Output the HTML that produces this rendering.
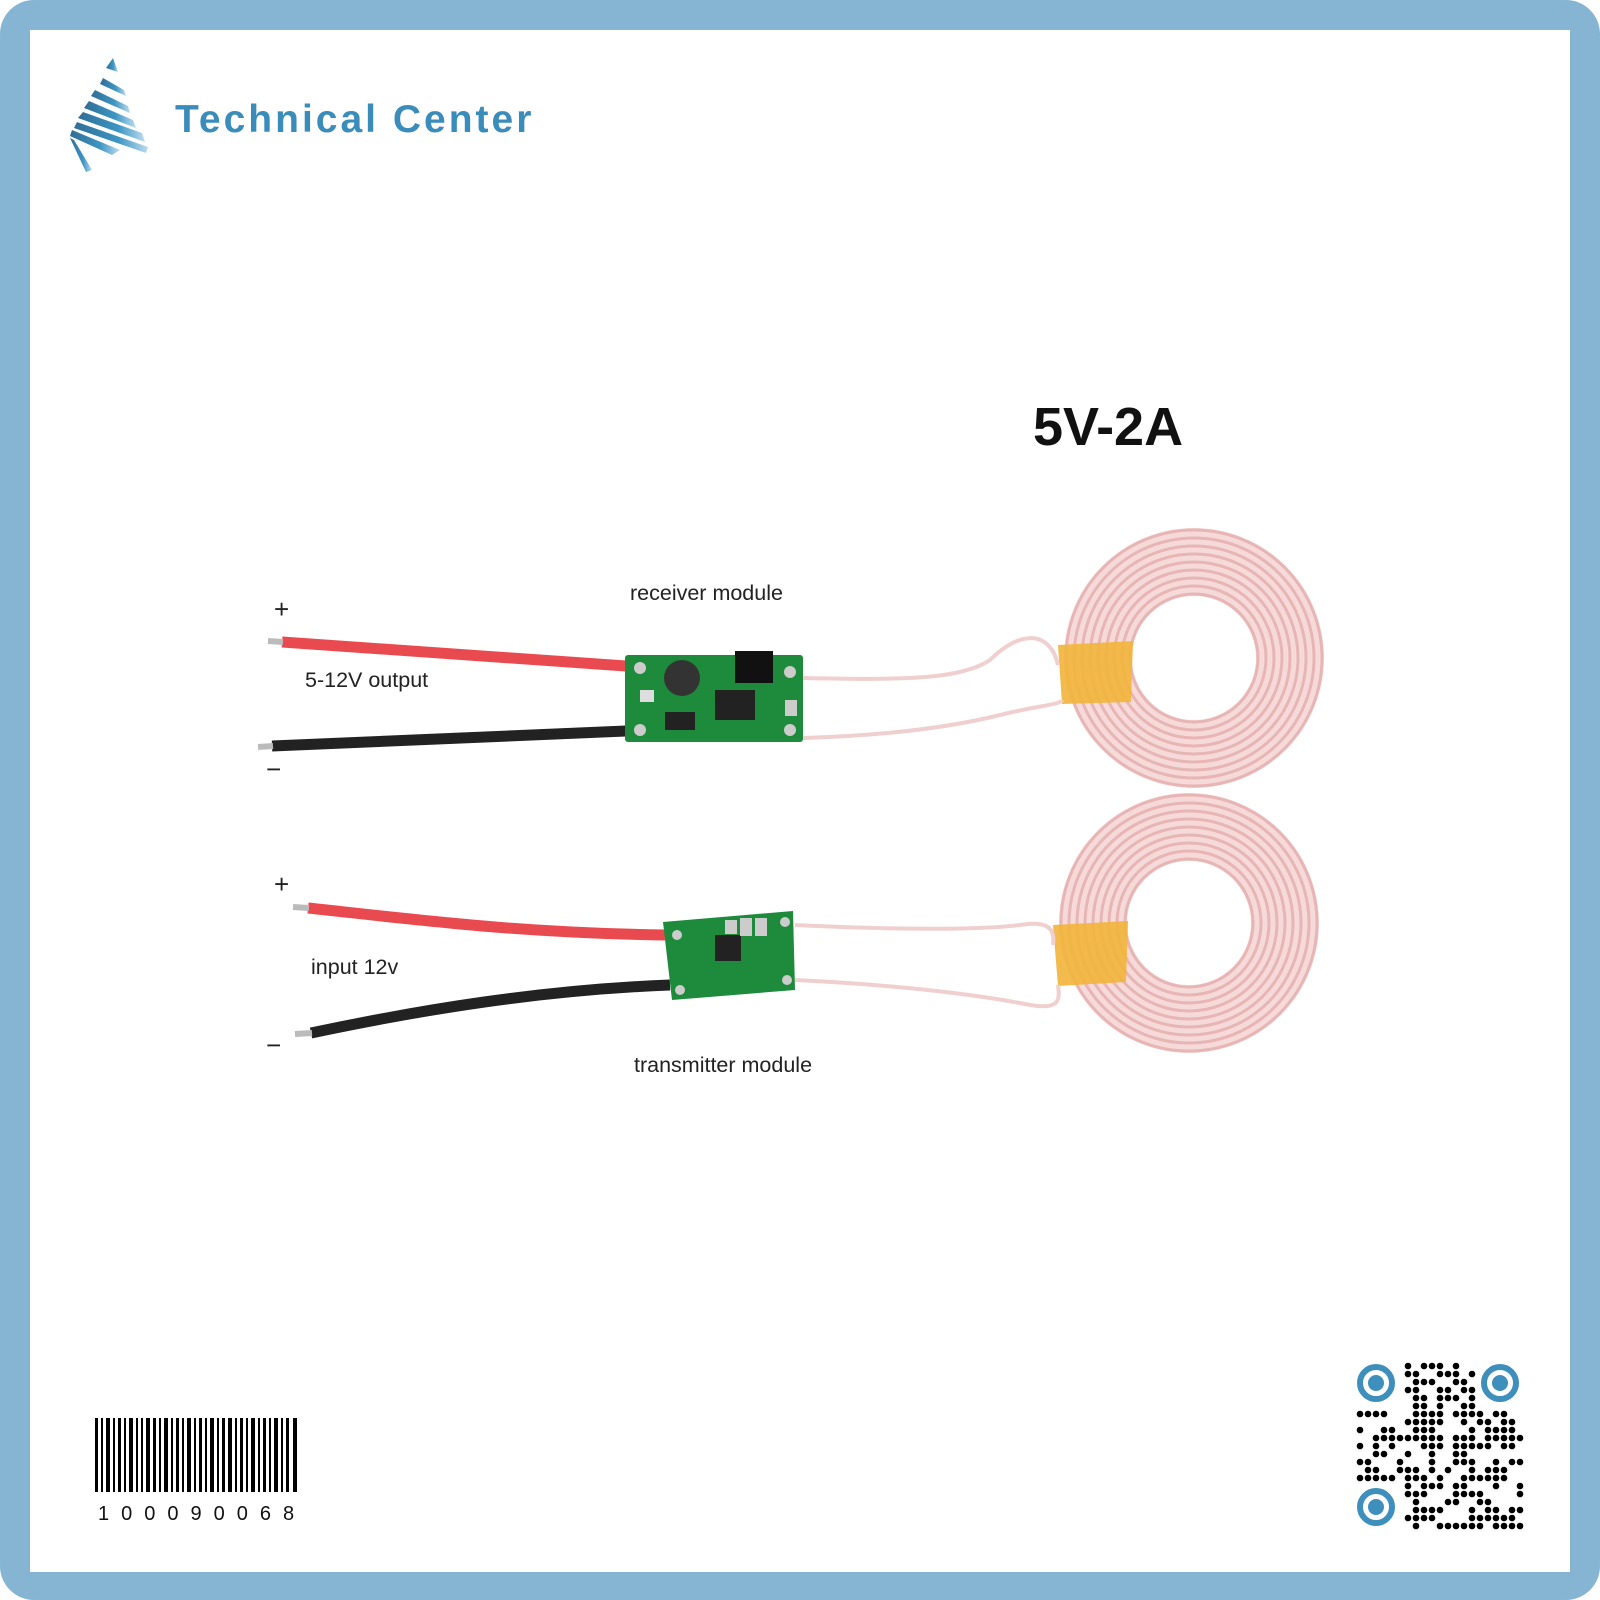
<!DOCTYPE html>
<html><head><style>
html,body{margin:0;padding:0;background:#fff}
#w{position:relative;width:1600px;height:1600px;background:#85b5d2;border-radius:34px;overflow:hidden}
#in{position:absolute;left:30px;top:30px;width:1540px;height:1542px;background:#fff}
.t{position:absolute;font-family:"Liberation Sans",sans-serif;color:#222;white-space:nowrap}
</style></head><body>
<div id="w"><div id="in"></div>
<svg width="1600" height="1600" style="position:absolute;left:0;top:0">
<defs>
<linearGradient id="lg" x1="0" x2="1"><stop offset="0" stop-color="#2f6e96"/><stop offset="0.6" stop-color="#3d95c4"/><stop offset="1" stop-color="#bcdcee"/></linearGradient>
</defs>
<g fill="url(#lg)">
<polygon points="113,58 118,72 106,68"/>
<polygon points="103,78 124,90 126,96 100,84"/>
<polygon points="95,90 128,106 130,113 91,96"/>
<polygon points="89,101 133,120 136,128 84,108"/>
<polygon points="83,112 142,133 145,142 78,118"/>
<polygon points="77,122 148,147 146,153 74,128"/>
<polygon points="72,130 120,150 112,155 70,136"/>
<polygon points="70,138 86,172 92,170 74,140"/>
</g>
<!-- coils -->
<circle cx="1194" cy="658" r="96" fill="none" stroke="#f6dada" stroke-width="68"/>
<circle cx="1189" cy="923" r="96" fill="none" stroke="#f6dada" stroke-width="68"/>
<g fill="none" stroke="#e8b5b5" stroke-width="3">
<circle cx="1194" cy="658" r="128"/><circle cx="1194" cy="658" r="120"/><circle cx="1194" cy="658" r="112"/><circle cx="1194" cy="658" r="104"/><circle cx="1194" cy="658" r="96"/><circle cx="1194" cy="658" r="88"/><circle cx="1194" cy="658" r="80"/><circle cx="1194" cy="658" r="72"/><circle cx="1194" cy="658" r="64"/>
<circle cx="1189" cy="923" r="128"/><circle cx="1189" cy="923" r="120"/><circle cx="1189" cy="923" r="112"/><circle cx="1189" cy="923" r="104"/><circle cx="1189" cy="923" r="96"/><circle cx="1189" cy="923" r="88"/><circle cx="1189" cy="923" r="80"/><circle cx="1189" cy="923" r="72"/><circle cx="1189" cy="923" r="64"/>
</g>
<polygon points="1058,645 1133,641 1131,702 1062,704" fill="#f2b43a" opacity="0.9"/>
<polygon points="1053,925 1128,921 1126,982 1058,986" fill="#f2b43a" opacity="0.9"/>
<g fill="none" stroke="#f0cfcf" stroke-width="4">
<path d="M803,678 C900,680 960,680 990,660 C1020,630 1050,630 1058,665"/>
<path d="M803,738 C900,735 960,725 1000,715 C1040,705 1060,705 1062,700"/>
<path d="M795,925 C900,930 980,930 1020,925 C1050,920 1055,930 1053,945"/>
<path d="M795,980 C900,985 980,995 1030,1005 C1060,1010 1060,1000 1058,985"/>
</g>
<g stroke-linecap="butt" fill="none">
<path d="M282,642 L626,666" stroke="#e84a4f" stroke-width="11"/>
<path d="M268,641 L283,642" stroke="#bbb" stroke-width="6"/>
<path d="M272,746 L626,731" stroke="#222" stroke-width="11"/>
<path d="M258,747 L273,746" stroke="#bbb" stroke-width="6"/>
<path d="M308,908 C420,920 520,933 665,935" stroke="#e84a4f" stroke-width="11"/>
<path d="M293,907 L309,908" stroke="#bbb" stroke-width="6"/>
<path d="M311,1033 C420,1010 540,990 670,985" stroke="#222" stroke-width="11"/>
<path d="M295,1034 L312,1033" stroke="#bbb" stroke-width="6"/>
</g>
<rect x="625" y="655" width="178" height="87" fill="#1e8a3c" rx="3"/>
<circle cx="682" cy="678" r="18" fill="#333"/>
<rect x="735" y="651" width="38" height="32" fill="#111"/>
<rect x="715" y="690" width="40" height="30" fill="#222"/>
<rect x="665" y="712" width="30" height="18" fill="#222"/>
<rect x="640" y="690" width="14" height="12" fill="#ddd"/><rect x="785" y="700" width="12" height="16" fill="#ccc"/>
<circle cx="640" cy="668" r="6" fill="#ccc"/><circle cx="640" cy="730" r="6" fill="#ccc"/><circle cx="790" cy="672" r="6" fill="#ccc"/><circle cx="790" cy="730" r="6" fill="#ccc"/>
<polygon points="663,922 793,911 795,990 672,1000" fill="#1e8a3c"/>
<rect x="715" y="935" width="26" height="26" fill="#222"/>
<rect x="740" y="918" width="12" height="18" fill="#ccc"/><rect x="755" y="918" width="12" height="18" fill="#ccc"/><rect x="725" y="920" width="12" height="14" fill="#ccc"/>
<circle cx="677" cy="935" r="5" fill="#ccc"/><circle cx="680" cy="990" r="5" fill="#ccc"/><circle cx="785" cy="922" r="5" fill="#ccc"/><circle cx="787" cy="980" r="5" fill="#ccc"/>
<g fill="#000">
<rect x="95" y="1418" width="3" height="74"/><rect x="101" y="1418" width="2" height="74"/><rect x="106" y="1418" width="4" height="74"/><rect x="113" y="1418" width="2" height="74"/><rect x="118" y="1418" width="3" height="74"/><rect x="124" y="1418" width="2" height="74"/><rect x="129" y="1418" width="4" height="74"/><rect x="136" y="1418" width="2" height="74"/><rect x="141" y="1418" width="2" height="74"/><rect x="146" y="1418" width="4" height="74"/><rect x="153" y="1418" width="3" height="74"/><rect x="159" y="1418" width="2" height="74"/><rect x="164" y="1418" width="4" height="74"/><rect x="171" y="1418" width="2" height="74"/><rect x="176" y="1418" width="3" height="74"/><rect x="182" y="1418" width="2" height="74"/><rect x="187" y="1418" width="4" height="74"/><rect x="194" y="1418" width="2" height="74"/><rect x="199" y="1418" width="3" height="74"/><rect x="205" y="1418" width="2" height="74"/><rect x="210" y="1418" width="4" height="74"/><rect x="217" y="1418" width="2" height="74"/><rect x="222" y="1418" width="3" height="74"/><rect x="228" y="1418" width="4" height="74"/><rect x="235" y="1418" width="2" height="74"/><rect x="240" y="1418" width="3" height="74"/><rect x="246" y="1418" width="2" height="74"/><rect x="251" y="1418" width="4" height="74"/><rect x="258" y="1418" width="2" height="74"/><rect x="263" y="1418" width="3" height="74"/><rect x="269" y="1418" width="2" height="74"/><rect x="274" y="1418" width="4" height="74"/><rect x="281" y="1418" width="2" height="74"/><rect x="286" y="1418" width="3" height="74"/><rect x="293" y="1418" width="4" height="74"/>
</g>
<g fill="none" stroke="#3f8fbc" stroke-width="6">
<circle cx="1376" cy="1383" r="16"/><circle cx="1500" cy="1383" r="16"/><circle cx="1376" cy="1507" r="16"/>
</g>
<g fill="#3f8fbc"><circle cx="1376" cy="1383" r="8"/><circle cx="1500" cy="1383" r="8"/><circle cx="1376" cy="1507" r="8"/></g>
<g fill="#000" id="qr"></g>
</svg>
<div class="t" style="left:175px;top:98px;font-size:39px;font-weight:bold;color:#3a8dbb;letter-spacing:3px">Technical Center</div>
<div class="t" style="left:1033px;top:396px;font-size:54px;font-weight:bold;color:#111">5V-2A</div>
<div class="t" style="left:630px;top:581px;font-size:21.5px">receiver module</div>
<div class="t" style="left:274px;top:594px;font-size:26px">+</div>
<div class="t" style="left:305px;top:668px;font-size:21.5px">5-12V output</div>
<div class="t" style="left:266px;top:754px;font-size:26px">−</div>
<div class="t" style="left:274px;top:869px;font-size:26px">+</div>
<div class="t" style="left:311px;top:955px;font-size:21.5px">input 12v</div>
<div class="t" style="left:266px;top:1030px;font-size:26px">−</div>
<div class="t" style="left:634px;top:1053px;font-size:21.5px">transmitter module</div>
<div class="t" style="left:98px;top:1503px;font-size:20px;letter-spacing:12px;color:#111">100090068</div>
</div>
<script>
var g=document.getElementById('qr'),s='';var seed=7;
function r(){seed=(seed*9301+49297)%233280;return seed/233280;}
for(var i=0;i<21;i++)for(var j=0;j<21;j++){
if((i<6&&j<6)||(i<6&&j>14)||(i>14&&j<6))continue;
if(r()<0.5)s+='<circle cx="'+(1360+j*8)+'" cy="'+(1366+i*8)+'" r="3.3"/>';}
g.innerHTML=s;
</script>
</body></html>
